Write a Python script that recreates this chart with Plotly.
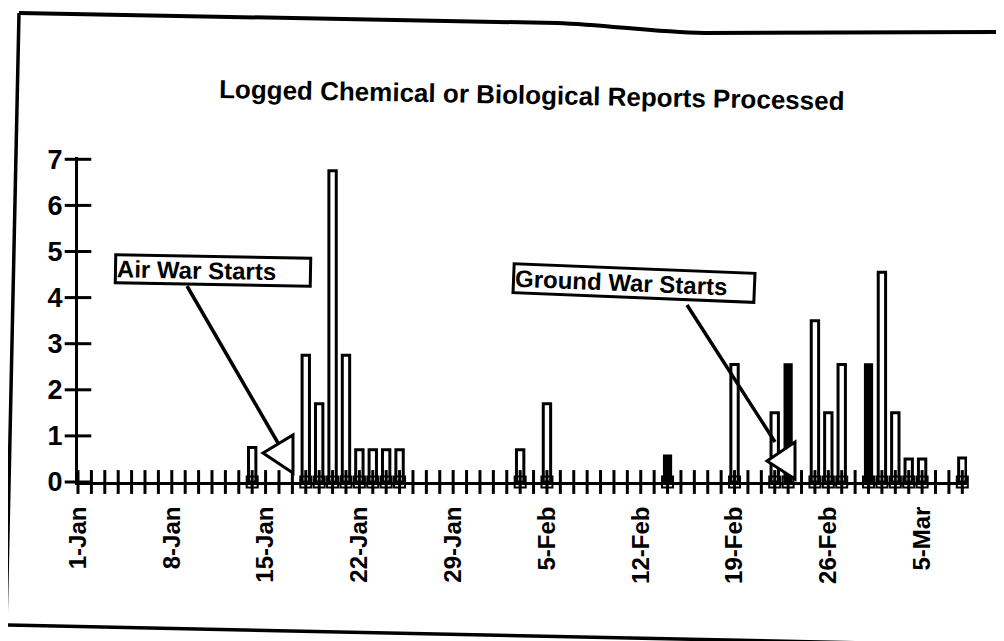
import plotly.graph_objects as go
import pandas as pd

# ---------------- data ----------------
start_date = "1991-01-01"
axis_end_date = "1991-03-08"

hollow_dates = ["1991-01-14", "1991-01-18", "1991-01-19", "1991-01-20", "1991-01-21",
                "1991-01-22", "1991-01-23", "1991-01-24", "1991-01-25",
                "1991-02-03", "1991-02-05",
                "1991-02-19", "1991-02-22", "1991-02-25", "1991-02-26", "1991-02-27",
                "1991-03-02", "1991-03-03", "1991-03-04", "1991-03-05", "1991-03-08"]
hollow_values = [0.75, 2.75, 1.7, 6.75, 2.75,
                 0.7, 0.7, 0.7, 0.7,
                 0.7, 1.7,
                 2.55, 1.5, 3.5, 1.5, 2.55,
                 4.55, 1.5, 0.5, 0.5, 0.52]

solid_dates = ["1991-02-14", "1991-02-23", "1991-03-01"]
solid_values = [0.57, 2.55, 2.55]

tick_dates = ["1991-01-01", "1991-01-08", "1991-01-15", "1991-01-22", "1991-01-29",
              "1991-02-05", "1991-02-12", "1991-02-19", "1991-02-26", "1991-03-05"]
tick_labels = ["1-Jan", "8-Jan", "15-Jan", "22-Jan", "29-Jan",
               "5-Feb", "12-Feb", "19-Feb", "26-Feb", "5-Mar"]
y_ticks = [0, 1, 2, 3, 4, 5, 6, 7]

title_text = "Logged Chemical or Biological Reports Processed"
air_text = "Air War Starts"
ground_text = "Ground War Starts"

# ---------------- helpers ----------------
t0 = pd.Timestamp(start_date)


def to_day(dates):
    return [(pd.Timestamp(d) - t0).days for d in dates]


hollow_x = to_day(hollow_dates)
solid_x = to_day(solid_dates)
tick_x = to_day(tick_dates)
end_x = to_day([axis_end_date])[0]
day_ticks = list(range(0, end_x + 1))
all_bar_x = sorted(hollow_x + solid_x)

W, H = 1004, 641
OFF = 8  # page body margin of the html page
# plot area in page pixel coordinates
PL, PR, PT, PB = 78, 967, 157, 482
L, T = PL - OFF, PT - OFF
R, B = (W + OFF) - PR, (H + OFF) - PB


def px(x):
    return (x - PL) / (PR - PL)


def py(y):
    return (PB - y) / (PB - PT)


def path(points, close=False):
    s = "M " + " L ".join(f"{px(a):.5f},{py(b):.5f}" for a, b in points)
    return s + (" Z" if close else "")


FONT = "Liberation Sans, Arial, sans-serif"

fig = go.Figure()

fig.add_trace(go.Bar(x=hollow_x, y=hollow_values, width=0.55,
                     marker=dict(color="white", line=dict(color="black", width=3)),
                     hoverinfo="skip"))
fig.add_trace(go.Bar(x=solid_x, y=solid_values, width=0.5,
                     marker=dict(color="black", line=dict(color="black", width=2.5)),
                     hoverinfo="skip"))

# cross-shaped day ticks on the x axis
fig.add_trace(go.Scatter(x=day_ticks, y=[0] * len(day_ticks), mode="markers",
                         marker=dict(symbol="line-ns", size=17, line=dict(width=3, color="black")),
                         cliponaxis=False, hoverinfo="skip"))
# cross-shaped ticks on the y axis
fig.add_trace(go.Scatter(x=[0] * len(y_ticks), y=y_ticks, mode="markers",
                         marker=dict(symbol="line-ew", size=19, line=dict(width=3, color="black")),
                         cliponaxis=False, hoverinfo="skip"))
# small base boxes under each bar
fig.add_trace(go.Scatter(x=all_bar_x, y=[0] * len(all_bar_x), mode="markers",
                         marker=dict(symbol="square-open", size=11, color="black",
                                     line=dict(width=2, color="black")),
                         cliponaxis=False, hoverinfo="skip"))

shapes = []
# page frame
shapes.append(dict(type="path", xref="paper", yref="paper",
                   path=(f"M {px(19):.5f},{py(13):.5f} L {px(557):.5f},{py(23):.5f} "
                         f"C {px(610):.5f},{py(25):.5f} {px(650):.5f},{py(32):.5f} {px(705):.5f},{py(33):.5f} "
                         f"L {px(1010):.5f},{py(32):.5f}"),
                   line=dict(color="black", width=4)))
shapes.append(dict(type="path", xref="paper", yref="paper",
                   path=path([(19, 13), (6, 625), (1010, 646)]),
                   line=dict(color="black", width=3.5)))
shapes.append(dict(type="path", xref="paper", yref="paper",
                   path=path([(998, 33), (998, 645)]),
                   line=dict(color="black", width=3)))
# callout lines
shapes.append(dict(type="line", xref="paper", yref="paper",
                   x0=px(187), y0=py(286), x1=px(278), y1=py(443),
                   line=dict(color="black", width=3.5)))
shapes.append(dict(type="line", xref="paper", yref="paper",
                   x0=px(687), y0=py(305), x1=px(775), y1=py(442),
                   line=dict(color="black", width=3.5)))
# hollow triangle arrow heads
shapes.append(dict(type="path", xref="paper", yref="paper",
                   path=path([(263, 453), (293, 435), (293, 473)], close=True),
                   fillcolor="white", line=dict(color="black", width=3)))
shapes.append(dict(type="path", xref="paper", yref="paper",
                   path=path([(767, 461), (795, 442), (795, 479)], close=True),
                   fillcolor="white", line=dict(color="black", width=3)))

annotations = [
    dict(text=title_text, xref="paper", yref="paper", x=px(532), y=py(95),
         xanchor="center", yanchor="middle", showarrow=False, textangle=1.1,
         font=dict(family=FONT, size=26, color="black", weight=700)),
    dict(text=air_text, xref="paper", yref="paper", x=px(114), y=py(270),
         xanchor="left", yanchor="middle", showarrow=False, textangle=1,
         width=192, height=25, align="left", borderpad=0, borderwidth=3,
         bordercolor="black", bgcolor="white",
         font=dict(family=FONT, size=24, color="black", weight=700)),
    dict(text=ground_text, xref="paper", yref="paper", x=px(511), y=py(283),
         xanchor="left", yanchor="middle", showarrow=False, textangle=2.3,
         width=238, height=26, align="left", borderpad=0, borderwidth=3,
         bordercolor="black", bgcolor="white",
         font=dict(family=FONT, size=24, color="black", weight=700)),
]

fig.update_layout(
    width=W, height=H,
    margin=dict(l=L, r=R, t=T, b=B, pad=0),
    plot_bgcolor="white", paper_bgcolor="white",
    showlegend=False, barmode="overlay",
    shapes=shapes, annotations=annotations,
    xaxis=dict(range=[0, end_x + 0.35], tickvals=tick_x, ticktext=tick_labels,
               tickangle=-90, ticks="", showline=True, linecolor="black", linewidth=3,
               showgrid=False, zeroline=False, ticklabelstandoff=12,
               tickfont=dict(family=FONT, size=24, color="black", weight=700)),
    yaxis=dict(range=[0, 7.05], tickvals=y_ticks, ticks="", showline=True,
               linecolor="black", linewidth=3, showgrid=False, zeroline=False,
               ticklabelstandoff=7,
               tickfont=dict(family=FONT, size=27, color="black", weight=700)),
)

fig.write_html("out.html")
